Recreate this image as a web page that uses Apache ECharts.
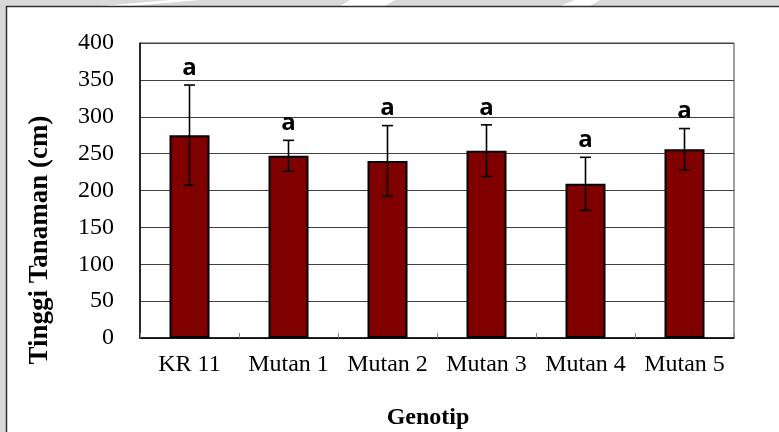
<!DOCTYPE html>
<html>
<head>
<meta charset="utf-8">
<script src="https://cdn.jsdelivr.net/npm/echarts@6/dist/echarts.min.js"></script>
<style>
  html, body { margin: 0; padding: 0; background: #ffffff; }
  #chart { width: 779px; height: 432px; }
</style>
</head>
<body>
<div id="chart"></div>
<script>
// Plant height per genotype (mean ± SD) with significance letters
const genotypes = ['KR 11', 'Mutan 1', 'Mutan 2', 'Mutan 3', 'Mutan 4', 'Mutan 5'];
const meanHeight = [275, 247, 240, 254, 209, 256];
const sdHeight = [68, 21, 48, 35, 36, 28];
const sigLetters = ['a', 'a', 'a', 'a', 'a', 'a'];
const yTicks = { min: 0, max: 400, step: 50 };

const serif = '"Liberation Serif", "Times New Roman", serif';

const chart = echarts.init(document.getElementById('chart'), null, { renderer: 'canvas' });

const errData = meanHeight.map((m, i) => [i, m, sdHeight[i]]);

chart.setOption({
  animation: false,
  backgroundColor: '#ffffff',
  grid: {
    left: 140, right: 45, top: 43, bottom: 94,
    show: true, borderColor: '#404040', borderWidth: 1
  },
  xAxis: {
    type: 'category',
    data: genotypes,
    axisLine: { lineStyle: { color: '#000', width: 1.5 } },
    axisTick: { show: true, inside: true, length: 5, alignWithLabel: false, lineStyle: { color: '#808080' } },
    axisLabel: { color: '#000', fontFamily: serif, fontSize: 24, margin: 15, interval: 0, hideOverlap: false },
    splitLine: { show: false }
  },
  yAxis: {
    type: 'value',
    min: yTicks.min, max: yTicks.max, interval: yTicks.step,
    axisLine: { show: true, lineStyle: { color: '#000', width: 1.5 } },
    axisTick: { show: false },
    axisLabel: { color: '#000', fontFamily: serif, fontSize: 24, margin: 26 },
    splitLine: { lineStyle: { color: '#404040', width: 1 } }
  },
  graphic: [
    // grey page strip along top and left with the page edge line
    { type: 'rect', shape: { x: 0, y: 0, width: 779, height: 6 }, style: { fill: '#d9d9d9' }, silent: true },
    { type: 'rect', shape: { x: 0, y: 0, width: 6, height: 432 }, style: { fill: '#d9d9d9' }, silent: true },
    { type: 'polygon', shape: { points: [[100, 6], [170, 0], [200, 0], [130, 6]] }, style: { fill: '#ffffff' }, silent: true },
    { type: 'polygon', shape: { points: [[340, 6], [350, 0], [395, 0], [385, 6]] }, style: { fill: '#ffffff' }, silent: true },
    { type: 'polygon', shape: { points: [[560, 6], [575, 0], [600, 0], [590, 6]] }, style: { fill: '#ffffff' }, silent: true },
    { type: 'polyline', shape: { points: [[6.5, 432], [6.5, 6.5], [779, 6.5]] }, style: { stroke: '#303030', lineWidth: 1.5, fill: null }, silent: true },
    {
      type: 'text', x: 40, y: 240, rotation: Math.PI / 2,
      style: { text: 'Tinggi Tanaman (cm)', fill: '#000', font: 'bold 27px ' + serif, textAlign: 'center', textVerticalAlign: 'middle' }
    },
    {
      type: 'text', x: 428, y: 418,
      style: { text: 'Genotip', fill: '#000', font: 'bold 24px ' + serif, textAlign: 'center', textVerticalAlign: 'middle' }
    }
  ],
  series: [
    {
      type: 'bar',
      data: meanHeight,
      barWidth: 40,
      itemStyle: { color: '#800000', borderColor: '#000', borderWidth: 2 }
    },
    {
      type: 'custom',
      data: errData,
      z: 10,
      renderItem: function (params, api) {
        const i = api.value(0);
        const m = api.value(1);
        const sd = api.value(2);
        const hi = api.coord([i, m + sd]);
        const lo = api.coord([i, m - sd]);
        const cap = 5.5;
        const ls = { stroke: '#000', lineWidth: 1.6 };
        return {
          type: 'group',
          children: [
            { type: 'line', shape: { x1: hi[0], y1: hi[1], x2: lo[0], y2: lo[1] }, style: ls },
            { type: 'line', shape: { x1: hi[0] - cap, y1: hi[1], x2: hi[0] + cap, y2: hi[1] }, style: ls },
            { type: 'line', shape: { x1: lo[0] - cap, y1: lo[1], x2: lo[0] + cap, y2: lo[1] }, style: ls },
            {
              type: 'text', x: hi[0], y: hi[1] - 17,
              style: { text: sigLetters[params.dataIndex], fill: '#000', font: 'bold 24px "Open Sans", sans-serif', textAlign: 'center', textVerticalAlign: 'middle' }
            }
          ]
        };
      }
    }
  ]
});
</script>
</body>
</html>
